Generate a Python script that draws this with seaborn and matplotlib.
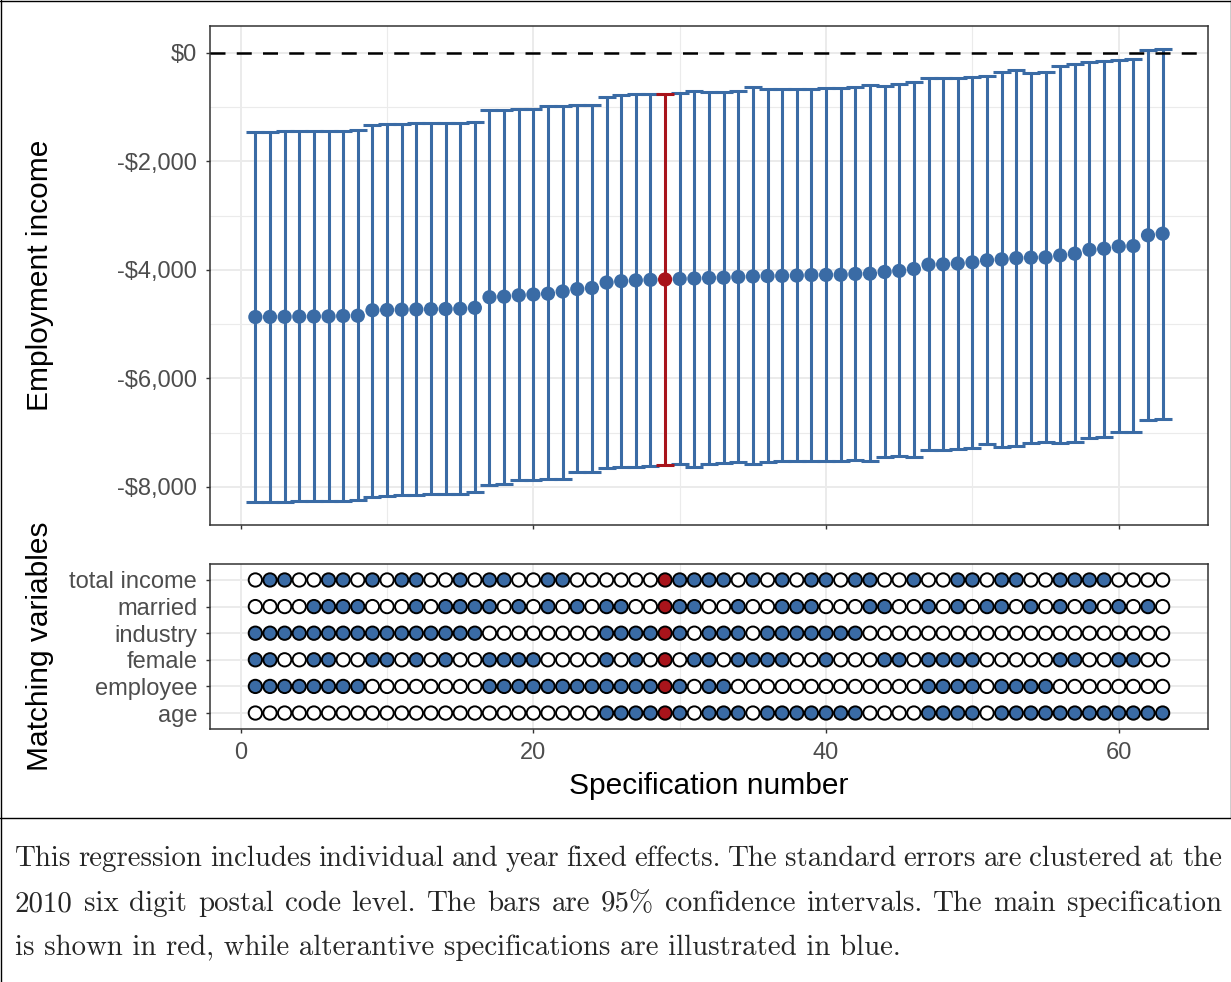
import numpy as np
import pandas as pd
import matplotlib
matplotlib.use("Agg")
import matplotlib.pyplot as plt
import seaborn as sns
from matplotlib.lines import Line2D

# ---------------- data ----------------
spec = list(range(1, 64))
main_spec = 29

estimate = [-4870, -4868, -4866, -4862, -4860, -4858, -4850, -4846,
            -4745, -4740, -4735, -4730, -4725, -4722, -4718, -4700,
            -4505, -4495, -4470, -4455, -4440,
            -4400, -4355, -4335, -4235, -4210, -4195, -4185, -4178,
            -4168, -4160, -4150, -4145, -4132, -4122, -4115, -4112, -4106, -4096, -4094, -4092, -4076,
            -4072, -4040, -4020, -3985, -3905, -3900, -3885, -3862, -3825, -3808, -3785, -3776, -3772,
            -3735, -3703, -3632, -3612, -3570, -3562, -3365, -3335]

ci_upper = [-1454, -1454, -1450, -1440, -1440, -1440, -1435, -1430,
            -1335, -1320, -1315, -1305, -1300, -1300, -1295, -1280,
            -1050, -1048, -1045, -1042, -985,
            -990, -970, -960, -810, -780, -766, -755, -755,
            -748, -700, -729, -725, -700, -626, -674, -672, -670, -668, -656, -644, -632,
            -595, -607, -583, -533, -472, -470, -460, -441, -429, -349, -319, -368, -349,
            -239, -214, -165, -147, -134, -122, 50, 68]

ci_lower = [-8283, -8283, -8271, -8265, -8265, -8263, -8252, -8246,
            -8184, -8160, -8154, -8148, -8130, -8129, -8128, -8099,
            -7958, -7945, -7879, -7876, -7860,
            -7847, -7731, -7729, -7651, -7639, -7637, -7621, -7602,
            -7577, -7632, -7571, -7559, -7547, -7571, -7540, -7529, -7527, -7516, -7515, -7513, -7497,
            -7529, -7448, -7424, -7455, -7326, -7313, -7301, -7282, -7208, -7271, -7240, -7190, -7179,
            -7190, -7172, -7098, -7080, -6988, -6986, -6761, -6748]

# matching-variable inclusion (1 = included), specs 1..63
variables = ["total income", "married", "industry", "female", "employee", "age"]
inc_total_income = "0110011010" "1100101100" "1100000011" "1110101011" "0110010011" "0110011110" "000"
inc_married      = "0000111100" "0101111010" "1010110011" "1001001110" "0011001010" "1101010101" "010"
inc_industry     = "1111111111" "1111110000" "0000111111" "0111011111" "1100000000" "0000000000" "000"
inc_female       = "1100110011" "0101001111" "0000101010" "1101111001" "0001101111" "0000011001" "100"
inc_employee     = "1111111100" "0000001111" "1111111111" "0110000000" "0000001111" "0111100000" "000"
inc_age          = "0000000000" "0000000000" "0000111111" "0111011111" "1100001111" "0111111111" "111"

y_ticks = [-8000, -6000, -4000, -2000, 0]
y_tick_labels = ["-\\$8,000", "-\\$6,000", "-\\$4,000", "-\\$2,000", "\\$0"]
x_ticks = [0, 20, 40, 60]

caption_lines = [
    "This regression includes individual and year fixed effects. The standard errors are clustered at the",
    "2010 six digit postal code level. The bars are 95% confidence intervals. The main specification",
    "is shown in red, while alterantive specifications are illustrated in blue.",
]

# ---------------- style ----------------
BLUE = "#3A6BA5"
RED = "#A8141B"
GRID = "#EBEBEB"
BORDER = "#333333"
TICKTXT = "#4D4D4D"

sns.set_theme(style="white")
plt.rcParams["font.family"] = ["Liberation Sans", "DejaVu Sans"]

W, H = 1231, 982
fig = plt.figure(figsize=(W / 100, H / 100), dpi=100)
fig.patch.set_facecolor("white")


def rect(l, t, r, b):
    return [l / W, 1 - b / H, (r - l) / W, (b - t) / H]


ax1 = fig.add_axes(rect(210, 26, 1208, 525))
ax2 = fig.add_axes(rect(210, 564, 1208, 729))

df = pd.DataFrame({"spec": spec, "estimate": estimate, "lower": ci_lower, "upper": ci_upper})
df["is_main"] = df["spec"] == main_spec


def style_axis(ax):
    ax.set_facecolor("white")
    for s in ax.spines.values():
        s.set_visible(True)
        s.set_color(BORDER)
        s.set_linewidth(1.1)
    ax.tick_params(axis="both", which="major", length=3.2, width=1.0, color=BORDER,
                   labelsize=17, labelcolor=TICKTXT, pad=6, bottom=True, left=True)
    ax.tick_params(axis="both", which="minor", length=0)
    ax.grid(True, which="major", color=GRID, lw=1.4, zorder=0)
    ax.grid(True, which="minor", color=GRID, lw=0.8, zorder=0)
    ax.set_axisbelow(True)


# ---------------- upper panel ----------------
style_axis(ax1)
for flag, col in [(False, BLUE), (True, RED)]:
    sub = df[df["is_main"] == flag]
    ax1.errorbar(sub["spec"], sub["estimate"],
                 yerr=[sub["estimate"] - sub["lower"], sub["upper"] - sub["estimate"]],
                 fmt="none", ecolor=col, elinewidth=2.2, capsize=6.5, capthick=2.2, zorder=2)
sns.scatterplot(data=df, x="spec", y="estimate", hue="is_main",
                palette={False: BLUE, True: RED}, s=105, edgecolor="none",
                legend=False, ax=ax1, zorder=3)
ax1.axhline(0, color="black", lw=1.8, ls=(0, (6, 4.5)), zorder=4)
ax1.set_xlim(-2.1, 66.1)
ax1.set_ylim(-8700, 490)
ax1.set_yticks(y_ticks)
ax1.set_yticklabels(y_tick_labels)
ax1.set_yticks([-7000, -5000, -3000, -1000], minor=True)
ax1.set_xticks(x_ticks)
ax1.set_xticks([10, 30, 50], minor=True)
ax1.tick_params(axis="x", labelbottom=False)
ax1.set_xlabel("")
ax1.set_ylabel("")

# ---------------- lower panel ----------------
style_axis(ax2)
rows = {"total income": inc_total_income, "married": inc_married, "industry": inc_industry,
        "female": inc_female, "employee": inc_employee, "age": inc_age}
recs = []
for k, v in enumerate(variables):
    ypos = len(variables) - k
    for i, ch in enumerate(rows[v]):
        sp = spec[i]
        state = "main" if sp == main_spec else ("in" if ch == "1" else "out")
        recs.append({"spec": sp, "row": ypos, "state": state})
mdf = pd.DataFrame(recs)
sns.scatterplot(data=mdf, x="spec", y="row", hue="state",
                palette={"in": BLUE, "out": "white", "main": RED},
                s=92, edgecolor="black", linewidth=1.4, legend=False, ax=ax2, zorder=3)
ax2.set_xlim(-2.1, 66.1)
ax2.set_ylim(0.4, 6.6)
ax2.set_yticks([len(variables) - k for k in range(len(variables))])
ax2.set_yticklabels(variables)
ax2.set_xticks(x_ticks)
ax2.set_xticklabels([str(t) for t in x_ticks])
ax2.set_xticks([10, 30, 50], minor=True)
ax2.set_xlabel("")
ax2.set_ylabel("")

# axis titles
fig.text(40 / W, 1 - 275.5 / H, "Employment income", rotation=90, ha="center", va="center",
         fontsize=21.5, color="black")
fig.text(40 / W, 1 - 646.5 / H, "Matching variables", rotation=90, ha="center", va="center",
         fontsize=21.5, color="black")
fig.text(709 / W, 1 - 786 / H, "Specification number", ha="center", va="center",
         fontsize=21.5, color="black")

# ---------------- caption (justified) ----------------
cap_font = ["cmr10", "DejaVu Serif"]
renderer = fig.canvas.get_renderer()


def text_width(s, size):
    t = fig.text(0, 0, s, fontsize=size, family=cap_font)
    w = t.get_window_extent(renderer).width
    t.remove()
    return w


ref = 20.0
cap_size = ref * 888.0 / text_width(caption_lines[2], ref)
left_px, right_px = 15, 1222
baselines = [866, 911, 955]
for li, line in enumerate(caption_lines):
    yb = 1 - baselines[li] / H
    if li < 2:
        words = line.split(" ")
        widths = [text_width(w_, cap_size) for w_ in words]
        gap = (right_px - left_px - sum(widths)) / (len(words) - 1)
        x = left_px
        for w_, wd in zip(words, widths):
            fig.text(x / W, yb, w_, fontsize=cap_size, family=cap_font, va="baseline", ha="left")
            x += wd + gap
    else:
        fig.text(left_px / W, yb, line, fontsize=cap_size, family=cap_font, va="baseline", ha="left")

# ---------------- frame lines ----------------
def fline(x0, y0, x1, y1):
    fig.add_artist(Line2D([x0 / W, x1 / W], [1 - y0 / H, 1 - y1 / H],
                          transform=fig.transFigure, color="black", lw=1.0))


fline(0.5, 0, 0.5, H)
fline(0, 0.5, W, 0.5)
fline(W - 0.5, 0, W - 0.5, 818)
fline(0, 818, W, 818)

fig.savefig("out.png", dpi=100, facecolor="white")
